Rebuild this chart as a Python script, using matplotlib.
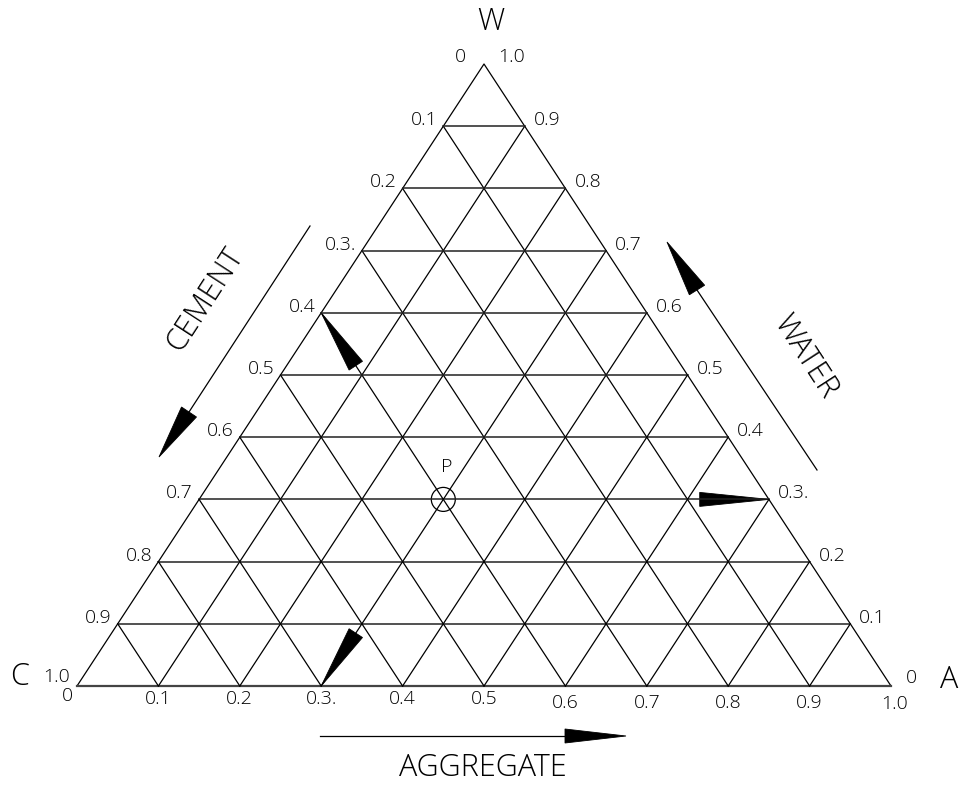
import numpy as np
import matplotlib.pyplot as plt
from matplotlib.patches import Polygon, Circle

# Ternary diagram: cement (C), aggregate (A), water (W)
grid_steps = [0.1, 0.2, 0.3, 0.4, 0.5, 0.6, 0.7, 0.8, 0.9]
cement_labels = ['0.1', '0.2', '0.3.', '0.4', '0.5', '0.6', '0.7', '0.8', '0.9']
aggregate_labels = ['0.1', '0.2', '0.3.', '0.4', '0.5', '0.6', '0.7', '0.8', '0.9']
water_labels = ['0.1', '0.2', '0.3.', '0.4', '0.5', '0.6', '0.7', '0.8', '0.9']

# mix point P
p_cement = 0.4
p_aggregate = 0.3
p_water = 0.3

# triangle placement in pixels
X0, Y0, L, H = 77, 686, 814, 622

FONT = ['Open Sans', 'Roboto', 'DejaVu Sans']


def to_xy(a, w):
    """aggregate / water fractions -> pixel position"""
    a = np.asarray(a, dtype=float)
    w = np.asarray(w, dtype=float)
    return X0 + (a + w / 2) * L, Y0 - w * H


def head(ax, tip, base, half):
    tip = np.array(tip, dtype=float)
    base = np.array(base, dtype=float)
    d = tip - base
    n = np.array([-d[1], d[0]]) / np.hypot(*d) * half
    ax.add_patch(Polygon([tip, base + n, base - n], closed=True,
                         facecolor='black', edgecolor='black', lw=0.6))


def txt(ax, x, y, s, size=14, **kw):
    ax.text(x, y, s, fontsize=size, family=FONT, fontweight='light',
            color='black', **kw)


fig = plt.figure(figsize=(9.6, 7.87), dpi=100)
ax = fig.add_axes([0, 0, 1, 1])
ax.set_xlim(0, 960)
ax.set_ylim(787, 0)
ax.axis('off')

lw = 0.9
# outline
xs, ys = to_xy([0, 1, 0, 0], [0, 0, 1, 0])
ax.plot(xs, ys, color='black', lw=lw)
ax.plot(*to_xy([0, 1], [0, 0]), color='#444444', lw=1.6)

# grid lines
for g in grid_steps:
    ax.plot(*to_xy([0, 1 - g], [g, g]), color='#222222', lw=1.1)   # const water
    ax.plot(*to_xy([g, g], [0, 1 - g]), color='black', lw=lw)       # const aggregate
    ax.plot(*to_xy([0, 1 - g], [1 - g, 0]), color='black', lw=lw)   # const cement

# edge labels
for g, s in zip(grid_steps, cement_labels):
    x, y = to_xy(0, 1 - g)
    txt(ax, x - 6, y - 6, s, ha='right', va='center')
for g, s in zip(grid_steps, water_labels):
    x, y = to_xy(1 - g, g)
    txt(ax, x + 9, y - 6, s, ha='left', va='center')
for g, s in zip(grid_steps, aggregate_labels):
    x, y = to_xy(g, 0)
    txt(ax, x, y + (13 if g < 0.55 else 17), s, ha='center', va='center')

# corner labels
txt(ax, 460, 57, '0', ha='center', va='center')
txt(ax, 512, 57, '1.0', ha='center', va='center')
txt(ax, 491, 22, 'W', size=22, ha='center', va='center')
txt(ax, 20, 677, 'C', size=22, ha='center', va='center')
txt(ax, 57, 677, '1.0', ha='center', va='center')
txt(ax, 67, 696, '0', ha='center', va='center')
txt(ax, 911, 678, '0', ha='center', va='center')
txt(ax, 895, 704, '1.0', ha='center', va='center')
txt(ax, 958, 680, 'A', size=22, ha='right', va='center')

# point P
px, py = to_xy(p_aggregate, p_water)
ax.add_patch(Circle((px, py), 12, fill=False, edgecolor='black', lw=0.9))
txt(ax, px + 3, py - 32, 'P', ha='center', va='center')

# arrows pointing from the scales to P
k = 0.085
head(ax, to_xy(0, 1 - p_cement), to_xy(k, 1 - p_cement - k), 8)
head(ax, to_xy(p_aggregate, 0), to_xy(p_aggregate, k), 8)
head(ax, to_xy(1 - p_water, p_water), to_xy(1 - p_water - k, p_water), 7)

# axis direction arrows
ax.plot([310, 189], [226, 412], color='black', lw=lw)
head(ax, (159, 457), (189, 412), 9)
txt(ax, 205, 300, 'CEMENT', size=22, rotation=57, ha='center', va='center',
    rotation_mode='anchor')

ax.plot([817, 697], [470, 290], color='black', lw=lw)
head(ax, (667, 242), (697, 290), 9)
txt(ax, 805, 357, 'WATER', size=22, rotation=-57, ha='center', va='center',
    rotation_mode='anchor')

ax.plot([320, 565], [736, 736], color='black', lw=lw)
head(ax, (626, 736), (565, 736), 7)
txt(ax, 483, 768, 'AGGREGATE', size=22, ha='center', va='center')

fig.savefig('out.png', dpi=100)
